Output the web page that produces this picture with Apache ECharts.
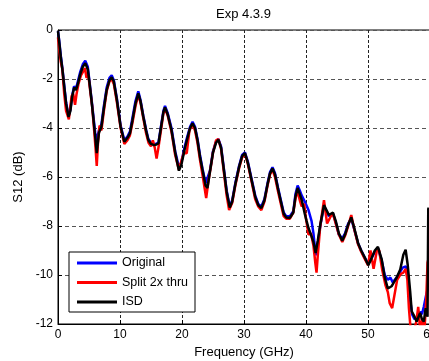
<!DOCTYPE html>
<html>
<head>
<meta charset="utf-8">
<script src="https://cdn.jsdelivr.net/npm/echarts/dist/echarts.min.js"></script>
<style>
  html, body { margin: 0; padding: 0; background: #fff; }
  #chart { width: 429px; height: 361px; }
</style>
</head>
<body>
<div id="chart"></div>
<script>
// frequency (GHz), S12 (dB)
const original = [
  [0, -0.05], [0.2, -0.45], [0.45, -1.05], [0.75, -1.65], [1.0, -2.25], [1.3, -2.95], [1.7, -3.5],
  [2.0, -3.25], [2.3, -2.65], [2.6, -2.3], [2.9, -2.4], [3.2, -2.1], [3.6, -1.7], [4.0, -1.4],
  [4.4, -1.25], [4.8, -1.5], [5.1, -2.15], [5.4, -2.8], [5.7, -3.5], [6.0, -4.2], [6.25, -4.5],
  [6.6, -4.1], [7.0, -3.85], [7.4, -3.1], [7.85, -2.35], [8.3, -1.95], [8.66, -1.85], [9.0, -2.05],
  [9.5, -2.8], [10.1, -3.9], [10.7, -4.5], [11.2, -4.35], [11.6, -4.15], [12.0, -3.6], [12.5, -2.9],
  [12.95, -2.5], [13.3, -2.85], [13.76, -3.5], [14.2, -4.05], [14.57, -4.45], [15.0, -4.6],
  [15.4, -4.65], [15.8, -4.65], [16.2, -4.6], [16.6, -3.95], [17.0, -3.3], [17.26, -3.1],
  [17.7, -3.4], [18.3, -4.0], [18.9, -4.95], [19.5, -5.6], [19.9, -5.4], [20.4, -4.8], [20.8, -4.4],
  [21.3, -3.95], [21.7, -3.75], [22.1, -3.95], [22.5, -4.45], [22.9, -5.1], [23.3, -5.65],
  [23.8, -6.25], [24.1, -6.3], [24.5, -5.75], [25.0, -4.95], [25.5, -4.55], [25.86, -4.45],
  [26.3, -4.75], [26.8, -5.75], [27.2, -6.55], [27.7, -7.2], [28.1, -6.95], [28.6, -6.25],
  [29.2, -5.55], [29.7, -5.1], [30.15, -5.0], [30.6, -5.35], [31.2, -6.05], [31.8, -6.75],
  [32.3, -7.1], [32.8, -7.2], [33.3, -6.9], [33.8, -6.25], [34.2, -5.8], [34.6, -5.6], [35.0, -5.85],
  [35.5, -6.45], [35.9, -6.9], [36.4, -7.45], [36.8, -7.6], [37.4, -7.6], [37.95, -7.4], [38.3, -6.7],
  [38.65, -6.35], [39.0, -6.55], [39.3, -6.75], [39.8, -7.0], [40.4, -7.35], [40.9, -7.8],
  [41.2, -8.3], [41.45, -8.9], [41.65, -9.2], [41.9, -8.7], [42.3, -8.0], [42.9, -7.2], [43.3, -7.4],
  [43.7, -7.6], [44.35, -7.5], [44.8, -7.85], [45.3, -8.35], [45.85, -8.5], [46.3, -8.3],
  [46.8, -7.9], [47.3, -7.7], [47.8, -8.15], [48.4, -8.7], [48.9, -9.0], [49.5, -9.3], [50.05, -9.55],
  [50.6, -9.3], [51.1, -9.05], [51.6, -8.9], [52.2, -9.4], [52.7, -10.0], [53.2, -10.2], [53.6, -10.1],
  [54.0, -10.3], [54.6, -10.1], [55.1, -9.9], [55.6, -9.7], [56.1, -9.65], [56.4, -9.9], [56.8, -11.0],
  [57.1, -11.6], [57.5, -11.8], [58.0, -11.7], [58.4, -11.5], [58.7, -11.6], [59.0, -11.3],
  [59.4, -10.8], [59.7, -10.5], [59.8, -10.4]
];

const split2x = [
  [0, -0.3], [0.2, -0.8], [0.45, -1.3], [0.7, -1.6], [1.0, -2.6], [1.3, -3.3], [1.75, -3.65],
  [2.0, -3.1], [2.2, -2.7], [2.45, -2.6], [2.75, -3.05], [3.0, -2.6], [3.3, -2.2], [3.7, -1.85],
  [4.05, -1.7], [4.35, -1.56], [4.6, -1.95], [4.9, -1.85], [5.2, -2.5], [5.5, -3.1], [5.8, -4.0],
  [6.05, -4.8], [6.25, -5.55], [6.45, -4.6], [6.7, -3.9], [7.0, -4.1], [7.4, -3.3], [7.85, -2.5],
  [8.3, -2.1], [8.65, -2.0], [9.0, -2.2], [9.5, -2.95], [10.1, -4.0], [10.7, -4.65], [11.2, -4.5],
  [11.6, -4.3], [12.0, -3.8], [12.5, -3.1], [12.95, -2.65], [13.3, -2.95], [13.76, -3.6],
  [14.2, -4.2], [14.6, -4.6], [15.0, -4.75], [15.3, -4.5], [15.6, -4.8], [15.9, -5.25], [16.2, -4.8],
  [16.6, -4.1], [17.0, -3.4], [17.26, -3.2], [17.7, -3.5], [18.3, -4.15], [18.9, -5.1], [19.5, -5.7],
  [19.9, -5.35], [20.3, -5.0], [20.76, -5.03], [21.2, -4.1], [21.7, -3.85], [22.1, -4.1],
  [22.5, -4.6], [22.9, -5.3], [23.3, -5.9], [23.9, -6.86], [24.3, -6.1], [24.7, -5.5], [25.0, -5.0],
  [25.5, -4.5], [25.86, -4.45], [26.3, -4.85], [26.8, -5.9], [27.2, -6.75], [27.6, -7.35],
  [28.1, -7.05], [28.6, -6.35], [29.2, -5.65], [29.7, -5.2], [30.15, -5.05], [30.6, -5.45],
  [31.2, -6.15], [31.8, -6.9], [32.3, -7.2], [32.8, -7.35], [33.3, -7.0], [33.8, -6.35],
  [34.2, -5.9], [34.6, -5.7], [35.0, -6.0], [35.5, -6.6], [35.9, -7.05], [36.4, -7.6], [36.8, -7.7],
  [37.4, -7.7], [37.95, -7.45], [38.3, -6.9], [38.6, -6.55], [39.0, -6.95], [39.3, -7.2],
  [39.7, -7.1], [40.0, -7.7], [40.4, -8.35], [40.8, -8.3], [41.2, -8.8], [41.5, -9.5], [41.7, -9.9],
  [41.9, -9.2], [42.3, -8.0], [42.9, -6.95], [43.4, -7.9], [43.7, -7.95], [44.0, -7.6],
  [44.35, -7.5], [44.8, -7.9], [45.3, -8.35], [45.85, -8.65], [46.3, -8.4], [46.8, -8.0],
  [47.3, -7.55], [47.8, -8.15], [48.4, -8.75], [48.9, -9.05], [49.5, -9.35], [50.0, -9.6],
  [50.4, -9.0], [50.9, -9.75], [51.5, -8.9], [51.8, -9.0], [52.3, -9.8], [52.8, -10.4],
  [53.2, -10.7], [53.5, -11.15], [53.9, -11.35], [54.2, -11.3], [54.7, -10.2], [55.3, -9.95],
  [55.7, -9.9], [56.07, -9.75], [56.35, -10.2], [56.6, -11.35], [56.9, -12.3], [57.3, -12.4],
  [57.8, -11.9], [58.1, -11.3], [58.4, -12.2], [58.8, -11.8], [59.1, -12.3], [59.4, -10.95],
  [59.6, -9.5], [59.8, -9.3]
];

const isd = [
  [0, -0.05], [0.2, -0.5], [0.45, -1.1], [0.75, -1.7], [1.0, -2.3], [1.3, -3.0], [1.7, -3.55],
  [2.0, -3.3], [2.3, -2.7], [2.6, -2.35], [2.9, -2.45], [3.2, -2.2], [3.6, -1.8], [4.0, -1.5],
  [4.4, -1.36], [4.8, -1.6], [5.1, -2.2], [5.4, -2.86], [5.7, -3.6], [6.0, -4.35], [6.25, -5.03],
  [6.6, -4.2], [7.0, -3.95], [7.4, -3.2], [7.85, -2.45], [8.3, -2.05], [8.66, -1.93], [9.0, -2.1],
  [9.5, -2.86], [10.1, -3.95], [10.7, -4.56], [11.2, -4.4], [11.6, -4.22], [12.0, -3.7], [12.5, -3.0],
  [12.95, -2.58], [13.3, -2.9], [13.76, -3.54], [14.2, -4.1], [14.57, -4.49], [15.0, -4.65],
  [15.4, -4.69], [15.8, -4.68], [16.2, -4.63], [16.6, -4.0], [17.0, -3.35], [17.26, -3.16],
  [17.7, -3.45], [18.3, -4.08], [18.9, -5.0], [19.5, -5.74], [19.9, -5.5], [20.4, -4.9],
  [20.8, -4.49], [21.3, -4.0], [21.7, -3.81], [22.1, -4.0], [22.5, -4.5], [22.9, -5.17],
  [23.3, -5.7], [23.8, -6.35], [24.1, -6.45], [24.5, -5.8], [25.0, -5.0], [25.5, -4.6],
  [25.86, -4.48], [26.3, -4.8], [26.8, -5.8], [27.2, -6.6], [27.7, -7.25], [28.1, -7.0],
  [28.6, -6.3], [29.2, -5.6], [29.7, -5.15], [30.15, -5.02], [30.6, -5.4], [31.2, -6.1],
  [31.8, -6.8], [32.3, -7.15], [32.8, -7.27], [33.3, -6.95], [33.8, -6.3], [34.2, -5.85],
  [34.6, -5.65], [35.0, -5.9], [35.5, -6.5], [35.9, -6.95], [36.4, -7.5], [36.8, -7.65],
  [37.4, -7.67], [37.95, -7.45], [38.3, -6.8], [38.65, -6.45], [39.0, -6.7], [39.3, -6.93],
  [39.8, -7.5], [40.1, -7.8], [40.4, -8.08], [40.8, -8.35], [41.2, -8.65], [41.55, -9.1],
  [41.9, -8.6], [42.3, -7.95], [42.9, -7.15], [43.3, -7.35], [43.7, -7.55], [44.35, -7.45],
  [44.8, -7.8], [45.3, -8.3], [45.85, -8.6], [46.3, -8.35], [46.8, -7.95], [47.3, -7.65],
  [47.8, -8.1], [48.4, -8.7], [48.9, -9.0], [49.5, -9.3], [50.05, -9.6], [50.6, -9.3], [51.1, -9.0],
  [51.6, -8.85], [52.2, -9.35], [52.7, -10.1], [53.2, -10.55], [53.8, -10.46], [54.6, -10.12],
  [55.2, -9.78], [55.7, -9.17], [56.07, -8.97], [56.4, -9.58], [56.8, -10.67], [57.05, -11.48],
  [57.5, -11.7], [57.85, -11.9], [58.4, -11.55], [58.7, -11.8], [59.0, -11.9], [59.3, -11.35],
  [59.6, -11.7], [59.72, -7.3], [59.8, -7.25]
];

const xTicks = { min: 0, max: 60, step: 10 };
const yTicks = { min: -12, max: 0, step: 2 };

const font = 'Liberation Sans, Arial, Helvetica, sans-serif';
const chart = echarts.init(document.getElementById('chart'));

chart.setOption({
  animation: false,
  backgroundColor: '#fff',
  title: {
    text: 'Exp 4.3.9',
    left: 216,
    top: 8,
    padding: 0,
    textStyle: { fontFamily: font, fontSize: 13, fontWeight: 'normal', color: '#000' }
  },
  grid: {
    left: 58, top: 30, width: 372, height: 294,
    outerBoundsMode: 'none',
    containLabel: false,
    show: true, borderColor: '#000', borderWidth: 1, backgroundColor: 'transparent'
  },
  legend: {
    orient: 'vertical',
    left: 69,
    top: 252,
    padding: [4, 7, 3, 8],
    itemWidth: 40,
    itemHeight: 3,
    itemGap: 5.5,
    icon: 'rect',
    backgroundColor: '#fff',
    borderColor: '#000',
    borderWidth: 1,
    borderRadius: 0,
    textStyle: { fontFamily: font, fontSize: 12.5, color: '#000', lineHeight: 14 },
    data: ['Original', 'Split 2x thru', 'ISD']
  },
  xAxis: {
    type: 'value',
    min: xTicks.min, max: xTicks.max, interval: xTicks.step,
    name: 'Frequency (GHz)',
    nameLocation: 'middle',
    nameGap: 22,
    nameTextStyle: { fontFamily: font, fontSize: 13, color: '#000' },
    axisLine: { show: true, onZero: false, lineStyle: { color: '#000', width: 1 } },
    axisTick: { show: true, inside: true, length: 4, lineStyle: { color: '#000' } },
    axisLabel: { fontFamily: font, fontSize: 12, color: '#000', margin: 5 },
    splitLine: { show: true, lineStyle: { color: '#222', type: [3, 2], width: 1 } }
  },
  yAxis: {
    type: 'value',
    min: yTicks.min, max: yTicks.max, interval: yTicks.step,
    name: 'S12 (dB)',
    nameLocation: 'middle',
    nameGap: 28,
    nameTextStyle: { fontFamily: font, fontSize: 13, color: '#000' },
    axisLine: { show: true, lineStyle: { color: '#000', width: 1 } },
    axisTick: { show: true, inside: true, length: 4, lineStyle: { color: '#000' } },
    axisLabel: { fontFamily: font, fontSize: 12, color: '#000', margin: 5 },
    splitLine: { show: true, lineStyle: { color: '#555', type: [4, 3], width: 1 } }
  },
  series: [
    { name: 'Original', type: 'line', data: original, symbol: 'none', color: '#0000ff', lineStyle: { width: 2.5 } },
    { name: 'Split 2x thru', type: 'line', data: split2x, symbol: 'none', color: '#ff0000', lineStyle: { width: 2.5 } },
    { name: 'ISD', type: 'line', data: isd, symbol: 'none', color: '#000000', lineStyle: { width: 2.5 } }
  ]
});
</script>
</body>
</html>
